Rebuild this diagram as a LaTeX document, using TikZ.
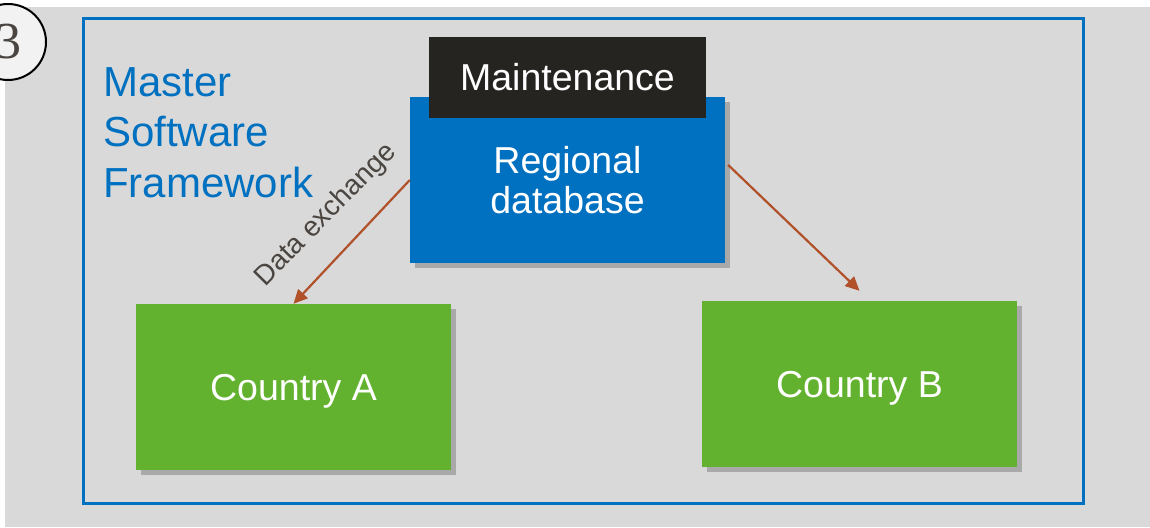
\documentclass[tikz,border=0pt]{standalone}
\usepackage{fontspec}
\setmainfont{Liberation Sans}
\newfontfamily\numfont{Liberation Serif}
\usetikzlibrary{arrows.meta,shadows,calc}
\definecolor{bg}{HTML}{D9D9D9}
\definecolor{frameblue}{HTML}{0070C0}
\definecolor{boxblue}{HTML}{0070C0}
\definecolor{boxgreen}{HTML}{62B22F}
\definecolor{boxblack}{HTML}{262421}
\definecolor{arrowbrown}{HTML}{B0512A}
\definecolor{labelgrey}{HTML}{4A4540}
\tikzset{
  shadowed/.style={drop shadow={shadow xshift=5pt,shadow yshift=-5pt,opacity=0.22,fill=black}},
  boxfont/.style={font=\fontsize{37.5}{45}\selectfont},
  bluebox/.style={fill=boxblue,text=white,minimum width=315pt,minimum height=166pt,inner sep=0pt,shadowed,align=center,boxfont},
  greenbox/.style={fill=boxgreen,text=white,minimum width=315pt,minimum height=166pt,inner sep=0pt,shadowed,boxfont,text depth=-2pt},
  blackbox/.style={fill=boxblack,text=white,minimum width=277pt,minimum height=81pt,inner sep=0pt,boxfont},
  flow/.style={draw=arrowbrown,line width=2.2pt,-{Triangle[length=14pt,width=13pt]}},
}
\begin{document}
\begin{tikzpicture}[x=1pt,y=-1pt]
\useasboundingbox (0,0) rectangle (1150,527);
\fill[white] (0,0) rectangle (1150,527);
\fill[bg] (5,7) rectangle (1150,527);
\node[draw=black,line width=2pt,fill=white!95!black,circle,minimum size=76pt,inner sep=0pt,text=labelgrey,font=\numfont\fontsize{52}{52}\selectfont] (num) at (8,42) {3};
\node[draw=frameblue,line width=3.5pt,minimum width=1000pt,minimum height=485pt,inner sep=0pt] (frame) at (583.5,261) {};
\node[anchor=north west,text=frameblue,align=left,inner sep=0pt,font=\fontsize{42}{50.5}\selectfont] (msf) at (103,67) {Master\\Software\\Framework};
\node[bluebox] (reg) at (567.5,180) {Regional\\[-5pt]database};
\node[blackbox] (maint) at (567.5,77.5) {Maintenance};
\node[greenbox] (ca) at (293.5,387) {Country A};
\node[greenbox] (cb) at (859.5,384) {Country B};
\draw[flow] (reg.west) -- (ca.north);
\coordinate (cbtop) at ($(cb.north)+(0,-10)$);
\draw[flow] ($(reg.east)+(3,-15)$) -- (cbtop);
\node[text=labelgrey,rotate=45.5,font=\fontsize{28}{30}\selectfont,inner sep=0pt] (dx) at (326,215) {Data exchange};
\end{tikzpicture}
\end{document}
